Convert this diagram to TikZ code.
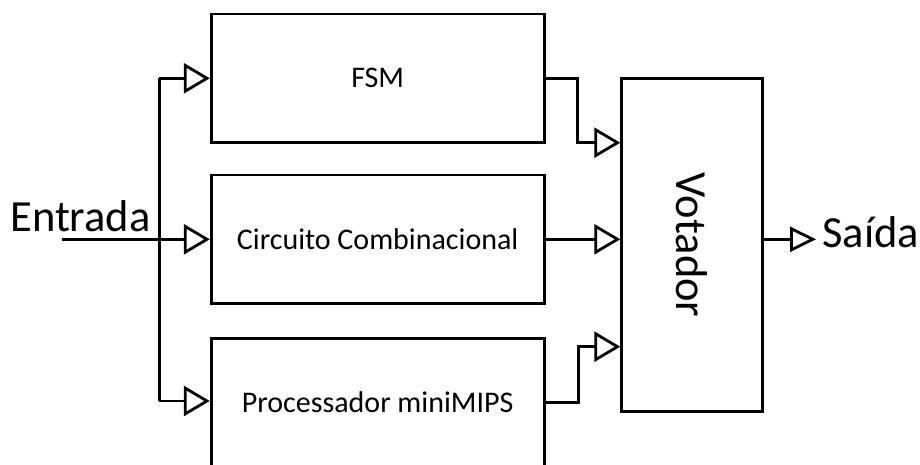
\documentclass[tikz,border=0pt]{standalone}
\usepackage{fontspec}
\setmainfont{Carlito}
\usetikzlibrary{arrows.meta}
\begin{document}
\begin{tikzpicture}[x=1pt,y=-1pt,
  line width=2.8pt,
  blk/.style={draw, rectangle, inner sep=0pt, minimum width=333pt, minimum height=128.5pt, font=\fontsize{30}{36}\selectfont},
  vot/.style={draw, rectangle, inner sep=0pt, minimum width=140.6pt, minimum height=333.4pt},
  big/.style={inner sep=0pt, font=\fontsize{44.5}{52}\selectfont},
  arr/.style={-{Triangle[open, length=26pt, width=30pt]}},
  arrs/.style={-{Triangle[open, length=26pt, width=25pt]}}]
\useasboundingbox (0,0) rectangle (920,465);
\clip (0,0) rectangle (920,465);
\fill[white] (0,0) rectangle (920,465);
% blocks
\node[blk] (fsm)  at (377.7,78.3)  {FSM};
\node[blk] (circ) at (377.7,239.2) {Circuito Combinacional};
\node[blk] (proc) at (377.7,402.5) {Processador miniMIPS};
\node[vot] (vot)  at (692,245) {};
\node[big, rotate=-90] (votl) at (692,245) {Votador};
% labels
\node[big, anchor=base west] (ent) at (9,231.7) {Entrada};
\node[big, anchor=base west] (sai) at (821,247.7) {Saída};
% input bus
\coordinate (in) at (62,239.3);
\coordinate (b1) at (159.3,78.3);
\coordinate (b2) at (159.3,239.3);
\coordinate (b3) at (159.3,401);
\draw (b1) -- (b3);
\draw[arr] (in) -- (circ.west|-in);
\draw[arr] (b1) -- (fsm.west|-b1);
\draw[arr] (b3) -- (proc.west|-b3);
% outputs to voter
\coordinate (f1) at (544.3,78.3);
\coordinate (f2) at (577.7,78.3);
\coordinate (f3) at (577.7,142.7);
\draw[arr] (f1) -- (f2) -- (f3) -- (vot.west|-f3);
\coordinate (c1) at (544.3,239.3);
\draw[arr] (c1) -- (vot.west|-c1);
\coordinate (p1) at (544.3,402.7);
\coordinate (p2) at (578.3,402.7);
\coordinate (p3) at (578.3,346.7);
\draw[arr] (p1) -- (p2) -- (p3) -- (vot.west|-p3);
% output
\coordinate (o1) at (762.3,239.3);
\coordinate (o2) at (816,239.3);
\draw[arrs] (vot.east|-o1) -- (o2);
\end{tikzpicture}
\end{document}
